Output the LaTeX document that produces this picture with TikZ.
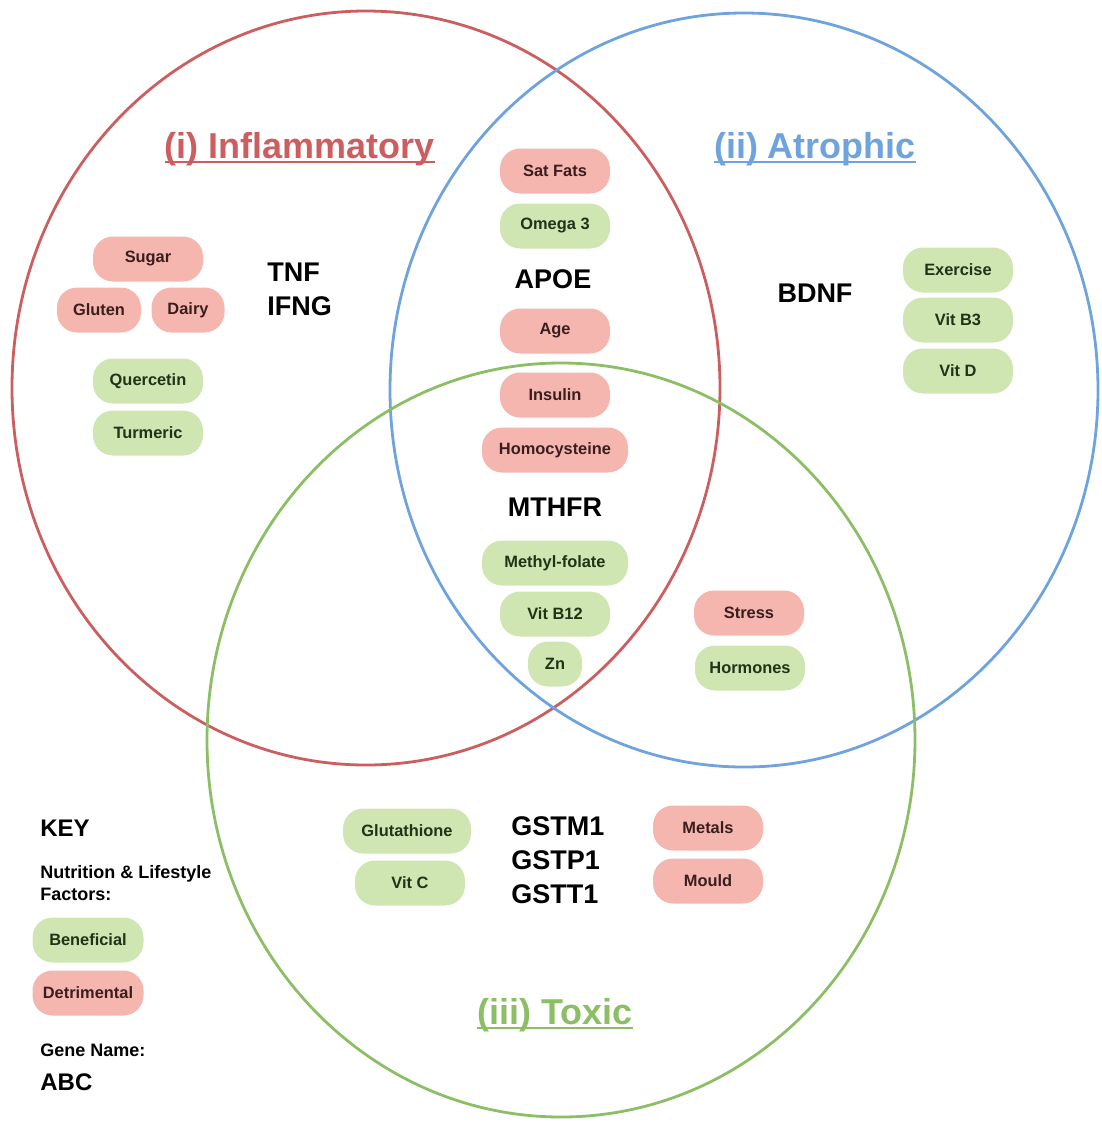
\documentclass[tikz,border=0pt]{standalone}
\usepackage{fontspec}
\setmainfont{Liberation Sans}
\definecolor{ringred}{HTML}{CC5E60}
\definecolor{ringblue}{HTML}{6FA3DE}
\definecolor{ringgreen}{HTML}{8CBE66}
\definecolor{badfill}{HTML}{F4B6AF}
\definecolor{goodfill}{HTML}{CFE5B2}
\definecolor{badtext}{HTML}{3A1E1E}
\definecolor{goodtext}{HTML}{1F3316}
\begin{document}
\begin{tikzpicture}[x=0.5pt, y=-0.5pt,
    pill/.style={rounded corners=10pt, minimum height=22.5pt, minimum width=55pt,
        inner sep=0pt, font=\fontsize{8.2}{10}\selectfont\bfseries},
    bad/.style={pill, fill=badfill, text=badtext},
    good/.style={pill, fill=goodfill, text=goodtext},
    gene/.style={font=\fontsize{13.5}{16}\selectfont\bfseries, align=left},
    title/.style={font=\fontsize{18}{20}\selectfont\bfseries, inner sep=0pt, anchor=base},
    keytext/.style={font=\fontsize{9}{11}\selectfont\bfseries, align=left, anchor=west, inner sep=0pt}]
    \useasboundingbox (0,0) rectangle (1102,1126);
    % the three sets
    \draw[ringred, line width=1.4pt] (366,388) ellipse [x radius=177pt, y radius=188.5pt];
    \draw[ringblue, line width=1.4pt] (744,390) ellipse [x radius=177pt, y radius=188.5pt];
    \draw[ringgreen, line width=1.4pt] (561,740) ellipse [x radius=177pt, y radius=188.5pt];
    % titles
    \node[title, text=ringred] (infl) at (300,158) {(i) Inflammatory};
    \node[title, text=ringblue] (atro) at (815,158) {(ii) Atrophic};
    \node[title, text=ringgreen] (toxi) at (555,1024) {(iii) Toxic};
    \foreach \t/\c in {infl/ringred, atro/ringblue, toxi/ringgreen}
        \draw[\c, line width=0.8pt] ([yshift=-2pt]\t.base west) -- ([yshift=-2pt]\t.base east);
    % centre column
    \node[bad] (satfats) at (555,171) {Sat Fats};
    \node[good] (omega) at (555,226) {Omega 3};
    \node[gene] (apoe) at (553,279) {APOE};
    \node[bad] (age) at (555,331) {Age};
    \node[bad] (insulin) at (555,395) {Insulin};
    \node[bad, minimum width=73pt] (homo) at (555,450) {Homocysteine};
    \node[gene] (mthfr) at (555,507) {MTHFR};
    \node[good, minimum width=73pt] (folate) at (555,563) {Methyl-folate};
    \node[good] (vitb12) at (555,614) {Vit B12};
    \node[good, minimum width=27pt] (zn) at (555,664) {Zn};
    % inflammatory only
    \node[bad] (sugar) at (148,259) {Sugar};
    \node[bad, minimum width=42pt] (gluten) at (99,310) {Gluten};
    \node[bad, minimum width=36.5pt] (dairy) at (188,310) {Dairy};
    \node[good] (querc) at (148,381) {Quercetin};
    \node[good] (turm) at (148,433) {Turmeric};
    \node[gene, anchor=west, inner sep=0pt] (tnf) at (267,289) {TNF\\[1pt]IFNG};
    % atrophic only
    \node[gene] (bdnf) at (815,293) {BDNF};
    \node[good] (exer) at (958,270) {Exercise};
    \node[good] (vitb3) at (958,320) {Vit B3};
    \node[good] (vitd) at (958,371) {Vit D};
    % atrophic and toxic
    \node[bad] (stress) at (749,613) {Stress};
    \node[good] (horm) at (750,668) {Hormones};
    % toxic only
    \node[good, minimum width=64pt] (gluta) at (407,831) {Glutathione};
    \node[good] (vitc) at (410,883) {Vit C};
    \node[gene, anchor=west, inner sep=0pt] (gst) at (511,860) {GSTM1\\[1pt]GSTP1\\[1pt]GSTT1};
    \node[bad] (metals) at (708,828) {Metals};
    \node[bad] (mould) at (708,881) {Mould};
    % key
    \node[keytext, font=\fontsize{12}{14}\selectfont\bfseries] (key) at (40,828) {KEY};
    \node[keytext] (factors) at (40,883) {Nutrition \& Lifestyle\\Factors:};
    \node[good, minimum width=55.5pt] (benef) at (88,940) {Beneficial};
    \node[bad, minimum width=55.5pt] (detri) at (88,993) {Detrimental};
    \node[keytext] (genename) at (40,1050) {Gene Name:};
    \node[keytext, font=\fontsize{12}{14}\selectfont\bfseries] (abc) at (40,1082) {ABC};
\end{tikzpicture}
\end{document}
